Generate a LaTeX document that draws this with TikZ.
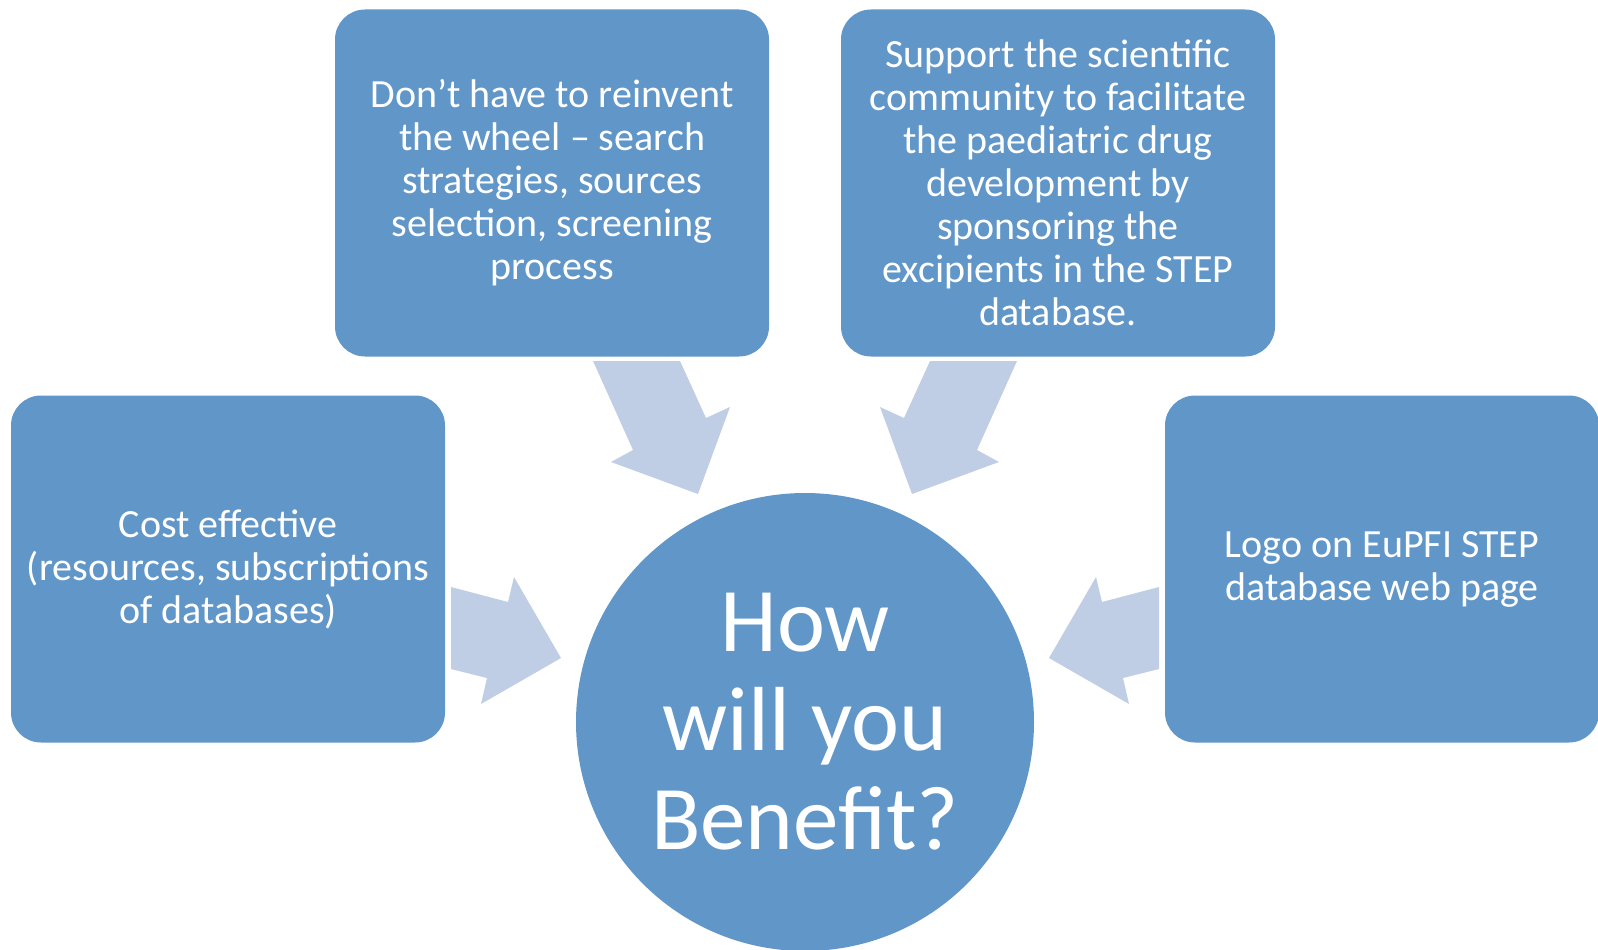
\documentclass[tikz,border=0pt]{standalone}
\usepackage{fontspec}
\setmainfont{Carlito}
\definecolor{boxblue}{RGB}{97,150,201}
\definecolor{arrowblue}{RGB}{191,206,228}
\tikzset{
  benefit/.style={draw=none,fill=boxblue,rounded corners=30pt,text=white,
    minimum width=434pt,minimum height=347pt,inner sep=0pt,align=center,
    font=\fontsize{40}{43}\selectfont},
  hub/.style={circle,draw=none,fill=boxblue,text=white,minimum size=458pt,
    inner sep=0pt,align=center,font=\fontsize{91}{99}\selectfont},
  blockarrow/.style={fill=arrowblue,draw=none}
}
\begin{document}
\begin{tikzpicture}[x=1pt,y=-1pt]
    \useasboundingbox (0,0) rectangle (1598,950);
    \coordinate (Centre) at (805,722);

    % the four boxes round the hub
    \node[benefit] (Cost)    at (228,569)  {Cost effective\\(resources, subscriptions\\of databases)};
    \node[benefit] (Wheel)   at (552,183)  {Don’t have to reinvent\\the wheel – search\\strategies, sources\\selection, screening\\process};
    \node[benefit] (Support) at (1058,183) {Support the scientific\\community to facilitate\\the paediatric drug\\development by\\sponsoring the\\excipients in the STEP\\database.};
    \node[benefit] (Logo)    at (1382,569) {Logo on EuPFI STEP\\database web page};

    % block arrows, mirrored about the hub
    \foreach \side in {1,-1}{% left side, then right side
      \begin{scope}[shift={(Centre)},yshift=722pt,xscale=\side]
        \fill[blockarrow] (-354,587) -- (-297,602) -- (-291,577) -- (-244,658)
          -- (-324,704) -- (-318,678) -- (-354,669) -- cycle;
        \fill[blockarrow] (-212,361) -- (-125,361) -- (-99,418) -- (-75,407)
          -- (-107,494) -- (-194,462) -- (-172,450) -- cycle;
      \end{scope}
    }

    \node[hub] (Hub) at (Centre) {How\\will you\\Benefit?};
  \end{tikzpicture}
\end{document}
